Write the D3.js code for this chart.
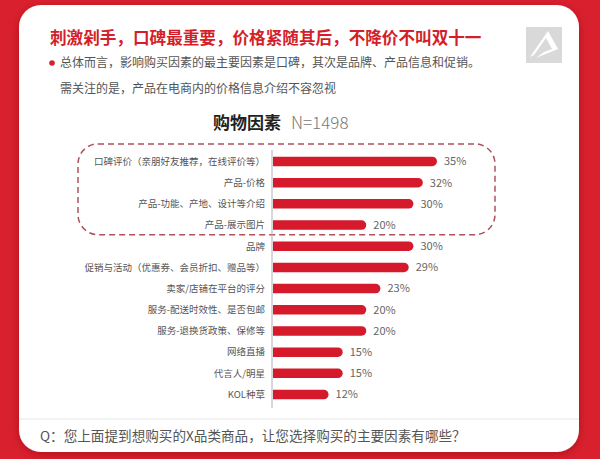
<!DOCTYPE html>
<html><head><meta charset="utf-8">
<script src="https://cdn.jsdelivr.net/npm/d3@7"></script>
<style>html,body{margin:0;padding:0;background:#d9202e;}svg{display:block;}</style>
</head><body>
<script>
const categories = ["口碑评价（亲朋好友推荐，在线评价等）","产品-价格","产品-功能、产地、设计等介绍","产品-展示图片","品牌","促销与活动（优惠券、会员折扣、赠品等）","卖家/店铺在平台的评分","服务-配送时效性、是否包邮","服务-退换货政策、保修等","网络直播","代言人/明星","KOL种草"];
const values = [35,32,30,20,30,29,23,20,20,15,15,12];
const valueLabels = ["35%","32%","30%","20%","30%","29%","23%","20%","20%","15%","15%","12%"];
const title = "刺激剁手，口碑最重要，价格紧随其后，不降价不叫双十一";
const bulletLines = ["总体而言，影响购买因素的最主要因素是口碑，其次是品牌、产品信息和促销。","需关注的是，产品在电商内的价格信息介绍不容忽视"];
const chartTitle = "购物因素";
const sampleLabel = "N=1498";
const question = "Q：您上面提到想购买的X品类商品，让您选择购买的主要因素有哪些？";

const W = 600, H = 459;
const font = "'Noto Sans CJK SC', 'Noto Sans', sans-serif";
const svg = d3.select("body").append("svg").attr("width", W).attr("height", H);
const defs = svg.append("defs");
const f = defs.append("filter").attr("id","sh").attr("x","-10%").attr("y","-10%").attr("width","120%").attr("height","120%");
f.append("feDropShadow").attr("dx",0).attr("dy",2).attr("stdDeviation",4).attr("flood-color","#7a0010").attr("flood-opacity",0.45);

svg.append("rect").attr("width",W).attr("height",H).attr("fill","#d9202e");
svg.append("rect").attr("x",19).attr("y",5).attr("width",560).attr("height",447).attr("rx",22)
  .attr("fill","#ffffff").attr("filter","url(#sh)");

// logo
svg.append("rect").attr("x",526).attr("y",27).attr("width",36).attr("height",36).attr("fill","#d9d9d9");
svg.append("path").attr("d","M548,31 L558,49 L536,58 L544,52 L552,49 L546,38 L534,55 L530,57 Z").attr("fill","#ffffff");

// title
svg.append("text").attr("x",50).attr("y",44).attr("font-family",font).attr("font-size",16.6).attr("font-weight","bold")
  .attr("fill","#d41f2b").text(title);
svg.append("circle").attr("cx",52).attr("cy",63).attr("r",2.8).attr("fill","#d9202e");
svg.selectAll("text.bl").data(bulletLines).join("text").attr("class","bl")
  .attr("x",60).attr("y",(d,i)=>67+i*26).attr("font-family",font).attr("font-size",12).attr("fill","#555").text(d=>d);

// chart title
const ct = svg.append("text").attr("x",213).attr("y",129).attr("font-family",font);
ct.append("tspan").attr("font-size",17).attr("font-weight","bold").attr("fill","#222").text(chartTitle);
ct.append("tspan").attr("dx",10).attr("font-size",17).attr("font-weight",300).attr("fill","#777").text(sampleLabel);

// scales
const x = d3.scaleLinear().domain([0,35]).range([272,437]);
const y = d3.scaleBand().domain(categories).range([151,405]).paddingInner(0.55).paddingOuter(0.27);

// dashed box around first four
const top4 = categories.slice(0,4);
const bx0 = 78, bx1 = 495;
const by0 = y(top4[0]) - (y.step()-y.bandwidth())/2 - 7;
const by1 = y(top4[3]) + y.bandwidth() + (y.step()-y.bandwidth())/2 - 1;
svg.append("rect").attr("x",bx0).attr("y",by0).attr("width",bx1-bx0).attr("height",by1-by0).attr("rx",20)
  .attr("fill","none").attr("stroke","#b0505e").attr("stroke-width",1.5).attr("stroke-dasharray","6,4");

// axis line
svg.append("line").attr("x1",x(0)).attr("x2",x(0)).attr("y1",150).attr("y2",408).attr("stroke","#b0b0b0").attr("stroke-width",1);

// bars with rounded right end
const bh = y.bandwidth();
svg.selectAll("path.bar").data(categories).join("path").attr("class","bar")
  .attr("fill","#d51a2b")
  .attr("d",(d,i)=>{
    const x0 = x(0)+1, x1 = x(values[i]), y0 = y(d), r = bh/2;
    return `M${x0},${y0} L${x1-r},${y0} A${r},${r} 0 0 1 ${x1-r},${y0+bh} L${x0},${y0+bh} Z`;
  });

// value labels
svg.selectAll("text.val").data(categories).join("text").attr("class","val")
  .attr("x",(d,i)=>x(values[i])+7).attr("y",d=>y(d)+bh/2).attr("dy","0.35em")
  .attr("font-family",font).attr("font-size",11).attr("fill","#666").text((d,i)=>valueLabels[i]);

// category labels
svg.selectAll("text.cat").data(categories).join("text").attr("class","cat")
  .attr("x",265).attr("y",d=>y(d)+bh/2).attr("dy","0.35em").attr("text-anchor","end")
  .attr("font-family",font).attr("font-size",9.5).attr("fill","#555").text(d=>d);

// divider and question
svg.append("line").attr("x1",19).attr("x2",579).attr("y1",419).attr("y2",419).attr("stroke","#e6e6e6").attr("stroke-width",1);
svg.append("text").attr("x",40).attr("y",441).attr("font-family",font).attr("font-size",13.6).attr("fill","#555").text(question);
</script>
</body></html>
